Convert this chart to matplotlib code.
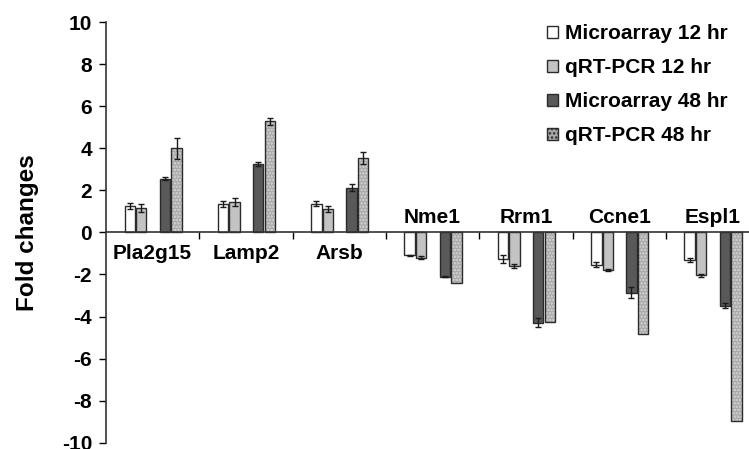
import numpy as np
import matplotlib.pyplot as plt
from matplotlib.patches import Patch

plt.rcParams['font.family'] = ['Liberation Sans', 'DejaVu Sans']
plt.rcParams['font.weight'] = 'bold'
plt.rcParams['axes.unicode_minus'] = False
plt.rcParams['hatch.linewidth'] = 1.2

genes = ['Pla2g15', 'Lamp2', 'Arsb', 'Nme1', 'Rrm1', 'Ccne1', 'Espl1']

micro12 = [1.25, 1.34, 1.37, -1.10, -1.26, -1.55, -1.31]
micro12_err = [0.16, 0.15, 0.12, 0.03, 0.20, 0.12, 0.10]
pcr12 = [1.15, 1.45, 1.12, -1.20, -1.61, -1.79, -2.05]
pcr12_err = [0.19, 0.18, 0.15, 0.08, 0.10, 0.04, 0.07]
micro48 = [2.55, 3.26, 2.13, -2.10, -4.29, -2.86, -3.49]
micro48_err = [0.08, 0.10, 0.15, 0.04, 0.20, 0.27, 0.12]
pcr48 = [4.00, 5.28, 3.53, -2.43, -4.25, -4.84, -8.99]
pcr48_err = [0.50, 0.17, 0.30]   # only the first three genes have error bars

labels = ['Microarray 12 hr', 'qRT-PCR 12 hr', 'Microarray 48 hr', 'qRT-PCR 48 hr']

fig = plt.figure(figsize=(7.49, 4.49), dpi=100)
ax = fig.add_axes([0.1415, 0.014, 0.872, 0.937])

x = np.arange(len(genes)) + 0.5
w = 0.112
edge = '#2b2b2b'
ekw = dict(ecolor='#1a1a1a', elinewidth=1.0, capthick=1.0)

ax.bar(x - 0.245, micro12, w, yerr=micro12_err, capsize=2.5, color='white',
       edgecolor=edge, linewidth=1.0, error_kw=ekw)
ax.bar(x - 0.122, pcr12, w, yerr=pcr12_err, capsize=2.5, color='#c3c3c3',
       edgecolor=edge, linewidth=1.0, error_kw=ekw)
ax.bar(x + 0.132, micro48, w, yerr=micro48_err, capsize=2.5, color='#595959',
       edgecolor=edge, linewidth=1.0, error_kw=ekw)
# dotted fill for the last series, outline drawn on top
ax.bar(x + 0.257, pcr48, w, color='#a9a9a9', edgecolor='#d6d6d6', hatch='.....',
       linewidth=0)
ax.bar(x + 0.257, pcr48, w, color='none', edgecolor=edge, linewidth=1.0)
ax.errorbar((x + 0.257)[:3], pcr48[:3], yerr=pcr48_err, fmt='none', capsize=2.5, **ekw)

ax.set_xlim(0, len(genes))
ax.set_ylim(-10, 10)
ax.set_yticks(range(-10, 11, 2))
ax.tick_params(axis='y', labelsize=15, length=5, width=1, direction='out', pad=5)
ax.set_xticks(np.arange(1, len(genes)))
ax.set_xticklabels([])
ax.tick_params(axis='x', length=5, width=1, direction='out')

ax.spines['bottom'].set_position(('data', 0))
ax.spines['top'].set_visible(False)
ax.spines['right'].set_visible(False)
for s in ('left', 'bottom'):
    ax.spines[s].set_color('#333333')
    ax.spines[s].set_linewidth(1.2)

for xi, g, v in zip(x, genes, micro12):
    if v > 0:
        ax.text(xi, -0.55, g, ha='center', va='top', fontsize=15, fontweight='bold')
    else:
        ax.text(xi, 0.25, g, ha='center', va='bottom', fontsize=15, fontweight='bold')

ax.set_ylabel('Fold changes', fontsize=17.5, fontweight='bold')
ax.yaxis.set_label_coords(-0.103, 0.5)

handles = [
    Patch(facecolor='white', edgecolor=edge, linewidth=1.0),
    Patch(facecolor='#c3c3c3', edgecolor=edge, linewidth=1.0),
    Patch(facecolor='#595959', edgecolor=edge, linewidth=1.0),
    Patch(facecolor='#a9a9a9', edgecolor=edge, linewidth=1.0, hatch='....'),
]
ax.legend(handles=handles, labels=labels, loc='upper left',
          bbox_to_anchor=(0.662, 1.014), frameon=False, fontsize=15,
          handlelength=0.55, handleheight=0.55, handletextpad=0.35,
          labelspacing=0.72, borderaxespad=0)

fig.savefig('out.png', dpi=100)
